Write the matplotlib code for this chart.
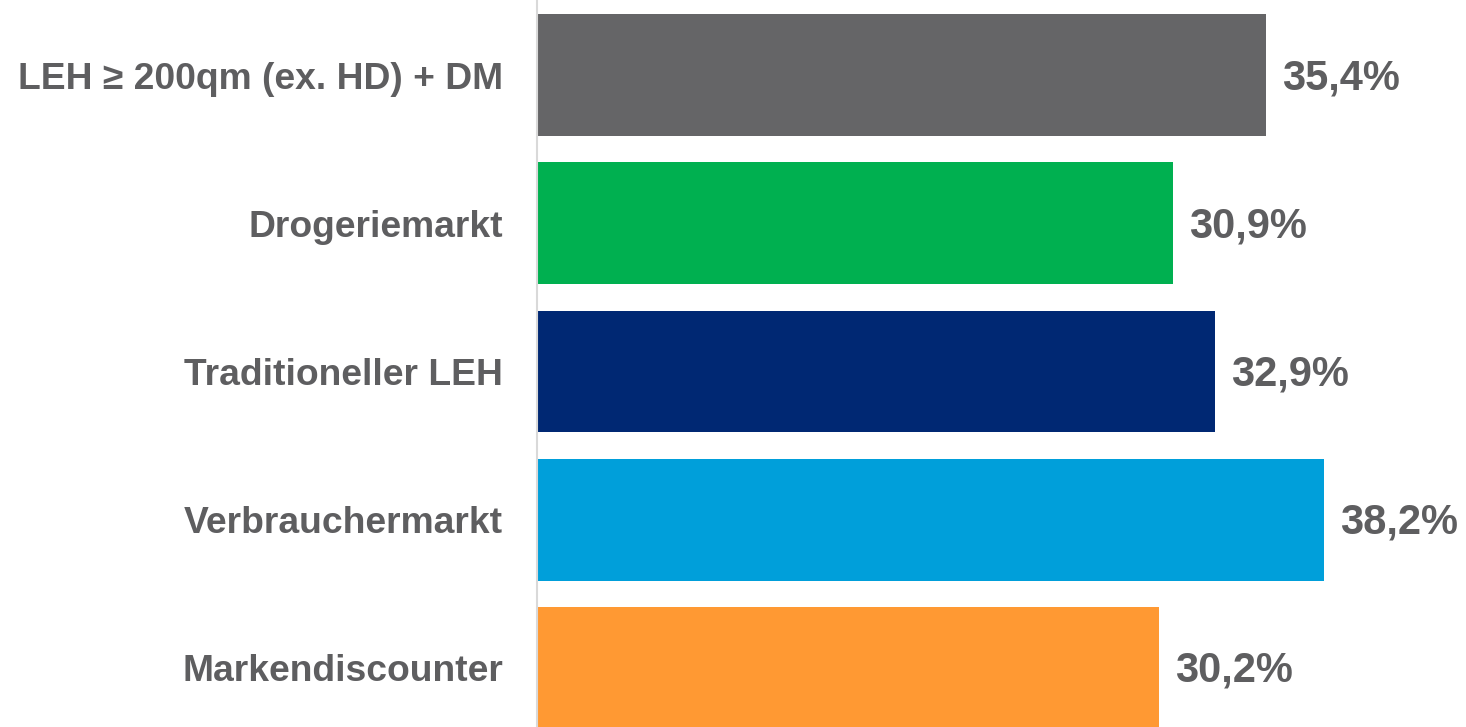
import matplotlib
matplotlib.use("Agg")
import matplotlib.pyplot as plt

categories = ["LEH ≥ 200qm (ex. HD) + DM", "Drogeriemarkt", "Traditioneller LEH",
              "Verbrauchermarkt", "Markendiscounter"]
values = [35.4, 30.9, 32.9, 38.2, 30.2]
value_labels = ["35,4%", "30,9%", "32,9%", "38,2%", "30,2%"]
colors = ["#656567", "#00b050", "#002873", "#009fda", "#ff9933"]

plt.rcParams["font.family"] = ["Liberation Sans", "DejaVu Sans"]
text_color = "#5e5e60"

fig = plt.figure(figsize=(14.66, 7.27), dpi=100)
ax = fig.add_axes([537 / 1466, 0, 1 - 537 / 1466, 1])

pos = list(range(len(categories)))
ax.barh(pos, values, height=0.82, color=colors)

for p, v, lab in zip(pos, values, value_labels):
    ax.annotate(lab, (v, p), xytext=(16, -3), textcoords="offset pixels",
                va="center", ha="left", fontsize=30, fontweight="bold",
                color=text_color)

ax.set_xlim(0, 45.1)
ax.set_ylim(4.398, -0.506)
ax.set_yticks(pos)
ax.set_yticklabels(categories, fontsize=26.8, fontweight="bold", color=text_color)
ax.tick_params(axis="y", length=0, pad=24.5)
ax.set_xticks([])
for side in ["top", "right", "bottom"]:
    ax.spines[side].set_visible(False)
ax.spines["left"].set_color("#d9d9d9")
ax.spines["left"].set_linewidth(1.5)

fig.savefig("out.png", dpi=100)
